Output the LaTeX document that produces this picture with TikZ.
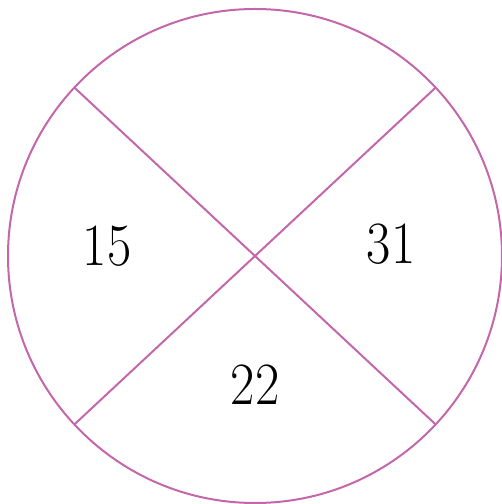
\documentclass[tikz,border=0pt]{standalone}
\definecolor{ring}{HTML}{C466AA}
\begin{document}
\begin{tikzpicture}[x=1pt,y=1pt,
  ringline/.style={draw=ring,line width=2pt},
  num/.style={font=\fontsize{60}{62}\selectfont,xscale=0.88,inner sep=0pt}]
\useasboundingbox (0,0) rectangle (502,504);
\coordinate (c) at (255,248);
\draw[ringline] (c) circle (247);
\path (c) ++(137:247) coordinate (ul);
\path (c) ++(-43:247) coordinate (lr);
\path (c) ++(43:247) coordinate (ur);
\path (c) ++(223:247) coordinate (ll);
\draw[ringline] (ul) -- (lr);
\draw[ringline] (ll) -- (ur);
\node[num] (a) at (107,258) {15};
\node[num] (b) at (391,260) {31};
\node[num] (d) at (255,119) {22};
\end{tikzpicture}
\end{document}
